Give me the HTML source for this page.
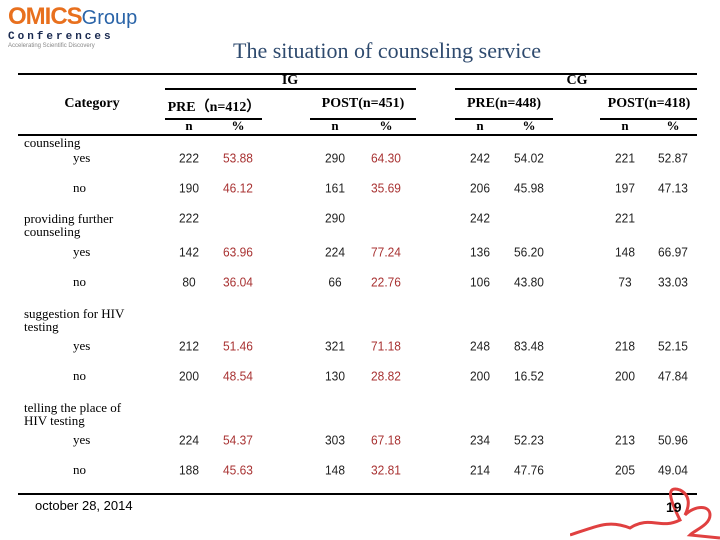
<!DOCTYPE html>
<html><head><meta charset="utf-8"><style>
body{margin:0;width:720px;height:540px;background:#fff;position:relative;overflow:hidden;font-family:"Liberation Serif",serif;}
.a{position:absolute;white-space:nowrap;}
.ln{position:absolute;background:#000;height:2px;}
.h{font-size:14px;color:#000;transform:translateX(-50%);font-weight:bold;}
.lab{font-size:13px;line-height:13px;}
.num{font-family:"Liberation Sans",sans-serif;font-size:13px;transform:translate(-50%,-50%) scaleX(0.92);color:#222;}
.red{color:#a83232;}
</style></head><body>
<div class="a" style="left:8px;top:4px;">
 <div style="font-family:'Liberation Sans',sans-serif;font-weight:bold;font-size:24px;line-height:26px;"><span style="color:#e8701e;letter-spacing:-1px;">OMICS</span><span style="color:#2a64a8;font-weight:normal;font-size:20px;">Group</span></div>
 <div style="font-family:'Liberation Mono',monospace;font-weight:bold;font-size:11px;letter-spacing:3px;color:#1a2a50;">Conferences</div>
 <div style="font-family:'Liberation Sans',sans-serif;font-size:6px;color:#888;">Accelerating Scientific Discovery</div>
</div>
<div class="a" style="left:387px;top:38px;transform:translateX(-50%);font-size:22px;color:#2e4a6e;">The situation of counseling service</div>
<div class="ln" style="left:18px;width:679px;top:73px;"></div>
<div class="ln" style="left:165px;width:251px;top:88px;"></div>
<div class="ln" style="left:455px;width:242px;top:88px;"></div>
<div class="ln" style="left:165px;width:97px;top:118px;"></div>
<div class="ln" style="left:310px;width:106px;top:118px;"></div>
<div class="ln" style="left:455px;width:98px;top:118px;"></div>
<div class="ln" style="left:600px;width:97px;top:118px;"></div>
<div class="ln" style="left:18px;width:679px;top:134px;"></div>
<div class="ln" style="left:18px;width:679px;top:493px;"></div>
<div class="a h" style="left:290px;top:73px;">IG</div>
<div class="a h" style="left:577px;top:73px;">CG</div>
<div class="a h" style="left:92px;top:96px;">Category</div>
<div class="a h" style="left:214px;top:96px;">PRE（n=412）</div>
<div class="a h" style="left:363px;top:96px;">POST(n=451)</div>
<div class="a h" style="left:504px;top:96px;">PRE(n=448)</div>
<div class="a h" style="left:649px;top:96px;">POST(n=418)</div>
<div id="sub"></div>
<div class="a lab" style="left:24px;top:136px;">counseling</div>
<div class="a lab" style="left:24px;top:212px;">providing further<br>counseling</div>
<div class="a lab" style="left:24px;top:307px;">suggestion for HIV<br>testing</div>
<div class="a lab" style="left:24px;top:401px;">telling the place of<br>HIV testing</div>
<div id="rows"></div>
<div class="a" style="left:35px;top:498px;font-family:'Liberation Sans',sans-serif;font-size:13px;">october 28, 2014</div>
<svg class="a" style="left:570px;top:480px;" width="150" height="60"><path d="M0 55 C30 45 40 40 60 48 C80 35 90 50 110 40 C100 20 95 5 110 10 C120 15 120 25 115 35 C125 25 140 25 140 35 C140 45 125 50 120 55 L150 58" fill="none" stroke="#e04040" stroke-width="3"/></svg>
<div class="a" style="left:666px;top:499px;font-family:'Liberation Sans',sans-serif;font-weight:bold;font-size:14px;">19</div>
<script>
const rowLabels=["yes","no","","yes","no","yes","no","yes","no"];
const rowY=[158,188,218,252,282,346,376,440,470];
const igPreN=["222","190","222","142","80","212","200","224","188"];
const igPreP=["53.88","46.12","","63.96","36.04","51.46","48.54","54.37","45.63"];
const igPostN=["290","161","290","224","66","321","130","303","148"];
const igPostP=["64.30","35.69","","77.24","22.76","71.18","28.82","67.18","32.81"];
const cgPreN=["242","206","242","136","106","248","200","234","214"];
const cgPreP=["54.02","45.98","","56.20","43.80","83.48","16.52","52.23","47.76"];
const cgPostN=["221","197","221","148","73","218","200","213","205"];
const cgPostP=["52.87","47.13","","66.97","33.03","52.15","47.84","50.96","49.04"];
const cols=[[igPreN,189,0],[igPreP,238,1],[igPostN,335,0],[igPostP,386,1],[cgPreN,480,0],[cgPreP,529,0],[cgPostN,625,0],[cgPostP,673,0]];
const rows=document.getElementById('rows');
const sub=document.getElementById('sub');
cols.forEach((c,i)=>{
 const d=document.createElement('div');d.className='a h';d.style.left=c[1]+'px';d.style.top='118px';d.style.fontSize='13px';
 d.textContent=i%2?'%':'n';
 
 
 sub.appendChild(d);
});
rowY.forEach((y,r)=>{
 if(rowLabels[r]){const l=document.createElement('div');l.className='a lab';l.style.left='73px';l.style.top=(y-7)+'px';l.textContent=rowLabels[r];
 
 
 rows.appendChild(l);}
 cols.forEach(c=>{
  const v=c[0][r];if(!v)return;
  const e=document.createElement('div');e.className='a num'+(c[2]?' red':'');e.style.left=c[1]+'px';e.style.top=y+'px';e.textContent=v;
  
  
  rows.appendChild(e);
 });
});
</script>
</body></html>
